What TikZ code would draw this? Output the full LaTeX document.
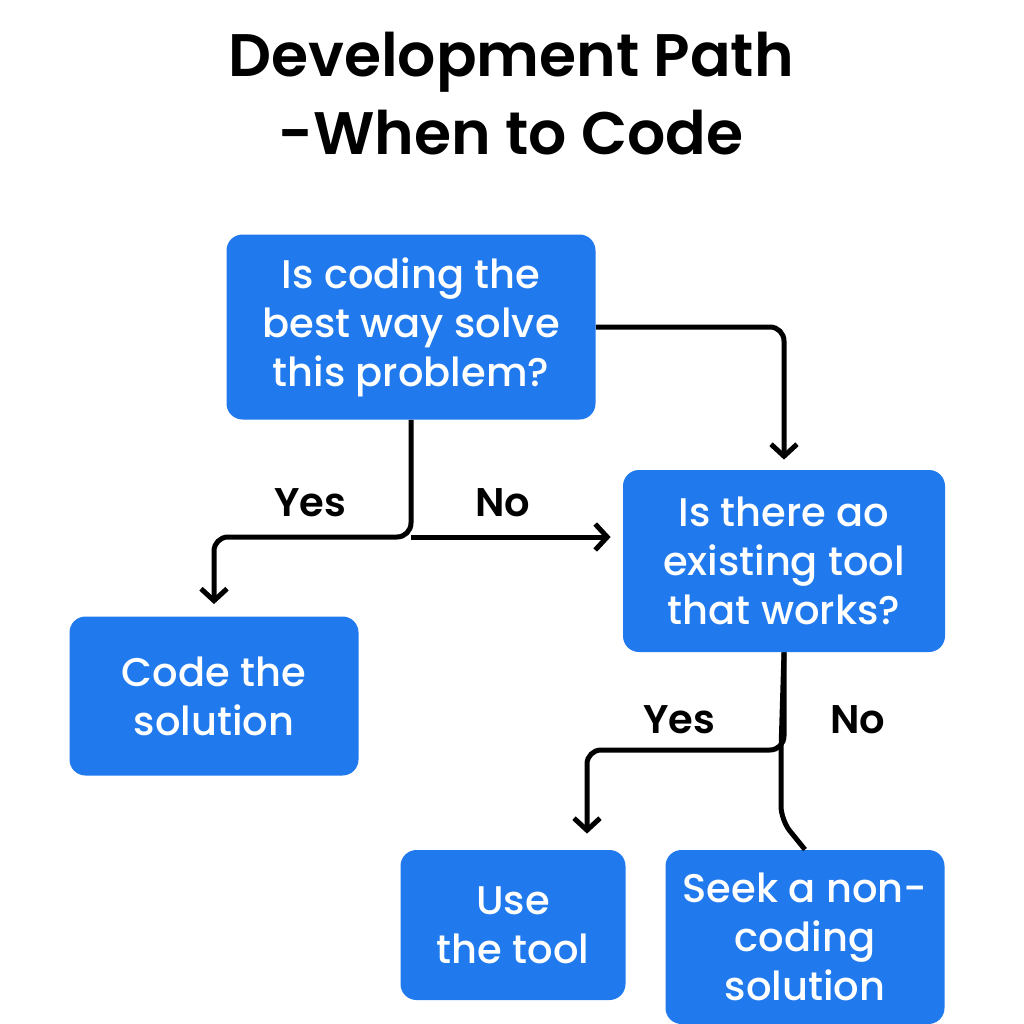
\documentclass[tikz,border=0pt]{standalone}
\usepackage{fontspec}
\setmainfont{Poppins}[BoldFont={Poppins SemiBold}]
\newfontfamily\mediumfont{Poppins Medium}
\usepackage{tikz}
\usetikzlibrary{arrows.meta}
\definecolor{boxblue}{RGB}{32,122,238}
\tikzset{
    flow-box/.style = {fill=boxblue, text=white, rectangle, rounded corners=8pt, align=center, inner sep=0pt, font=\mediumfont\fontsize{20}{24.5}\selectfont},
    flow-line/.style = {line width=2.5pt, rounded corners=7pt, black},
    flow-arrow/.style = {flow-line, -{Straight Barb[length=6pt,width=13pt,line width=2.5pt]}},
    flow-label/.style = {font=\bfseries\fontsize{20}{24}\selectfont},
}

\begin{document}
\begin{tikzpicture}[x=0.5pt,y=-0.5pt]
\useasboundingbox (0,0) rectangle (1024,1024);
% title
\node[font=\fontsize{30}{39}\selectfont\bfseries, align=center] (title) at (511,94) {Development Path\\-When to Code};

% boxes
\node[flow-box, minimum width=184.5pt, minimum height=92.5pt] (coding) at (411,327) {Is coding the\\best way solve\\this problem?};
\node[flow-box, minimum width=161pt, minimum height=91pt] (tool) at (784,561) {Is there ao\\existing tool\\that works?};
\node[flow-box, minimum width=144.5pt, minimum height=79.5pt] (code) at (214,696) {Code the\\solution};
\node[flow-box, minimum width=112.5pt, minimum height=75pt] (use) at (513,925) {Use\\the tool};
\node[flow-box, minimum width=139.5pt, minimum height=87pt] (seek) at (805,937) {Seek a non-\\coding\\solution};

% junctions
\coordinate (split-a) at (411,537);
\coordinate (split-b) at (781,750);

% connectors
\draw[flow-arrow, shorten >=5pt] (coding.east) -| (tool.north);
\draw[flow-arrow, shorten >=6pt] (coding.south) |- (code.north |- split-a) -- (code.north);
\draw[flow-arrow, shorten >=6pt] (split-a) -- (tool.west |- split-a);
\draw[flow-arrow, shorten >=8pt] (tool.south) |- ([xshift=37pt]use.north |- split-b) -- ([xshift=37pt]use.north);
\draw[flow-line] (tool.south) -- (split-b) -- ++(0,70) -- (seek.north);

% labels
\node[flow-label] (yes-a) at (310,503) {Yes};
\node[flow-label] (no-a) at (503,503) {No};
\node[flow-label] (yes-b) at (679,720) {Yes};
\node[flow-label] (no-b) at (858,720) {No};
\end{tikzpicture}
\end{document}
